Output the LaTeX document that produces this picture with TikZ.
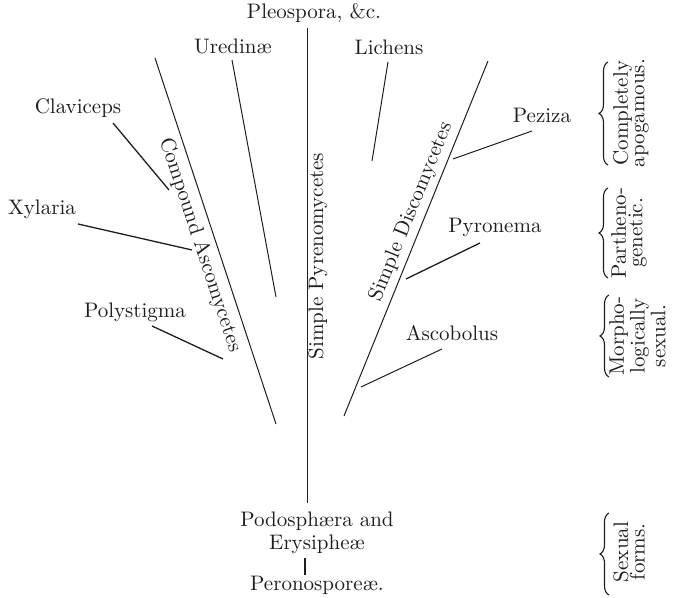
\documentclass[tikz,border=0pt]{standalone}
\usepackage{fontspec}
\usetikzlibrary{decorations.pathreplacing}
\definecolor{ink}{HTML}{1E1E1E}
\begin{document}
\begin{tikzpicture}[x=0.5pt,y=-0.5pt,
  lbl/.style={inner sep=0pt, text=ink, font=\fontsize{10.5}{12}\selectfont},
  grp/.style={lbl, rotate=90, align=center, font=\fontsize{10.5}{8.25}\selectfont},
  stem/.style={draw=ink, line width=0.5pt},
  leader/.style={draw=ink, line width=0.65pt},
  bracket/.style={draw=ink, line width=0.55pt, decorate,
    decoration={brace, amplitude=4.5pt}}]
\useasboundingbox (0,0) rectangle (677,598);

% taxon names
\node[lbl] (pleo) at (314,13) {Pleospora, \&c.};
\node[lbl] (ured) at (233,46) {Uredinæ};
\node[lbl] (lich) at (389,47) {Lichens};
\node[lbl] (clav) at (78,108) {Claviceps};
\node[lbl] (xyl)  at (42,209) {Xylaria};
\node[lbl] (poly) at (135,312) {Polystigma};
\node[lbl] (pez)  at (542,115) {Peziza};
\node[lbl] (pyro) at (495,227) {Pyronema};
\node[lbl] (asco) at (452,333) {Ascobolus};
\node[lbl, align=center, font=\fontsize{10.5}{11.5}\selectfont] (podo) at (317,533)
  {Podosphæra and\\Erysipheæ};
\node[lbl] (pero) at (317,585) {Peronosporeæ.};

% branch names written along the stems
\node[lbl, rotate=-71.7] (comp) at (200,245) {Compound Ascomycetes};
\node[lbl, rotate=90] (pyre) at (318,256) {Simple Pyrenomycetes};
\node[lbl, rotate=68] (disc) at (411,212) {Simple Discomycetes};

% stems
\coordinate (c-top) at (308,28);   \coordinate (c-bot) at (308,503);
\coordinate (u-top) at (232,60);   \coordinate (u-bot) at (276,297);
\coordinate (a-top) at (155,58);   \coordinate (a-bot) at (276,424);
\coordinate (l-top) at (388,62);   \coordinate (l-bot) at (372,161);
\coordinate (d-top) at (488,61);   \coordinate (d-bot) at (344,416);
\draw[stem] (c-top) -- (c-bot);
\draw[stem] (u-top) -- (u-bot);
\draw[stem] (a-top) -- (a-bot);
\draw[stem] (l-top) -- (l-bot);
\draw[stem] (d-top) -- (d-bot);

% leaders from the names to the stems
\coordinate (clav-a) at (113,123); \coordinate (clav-b) at (169,190);
\coordinate (xyl-a) at (78,224);   \coordinate (xyl-b) at (192,250);
\coordinate (poly-a) at (152,326); \coordinate (poly-b) at (223,359);
\coordinate (pez-a) at (532,131);  \coordinate (pez-b) at (453,159);
\coordinate (pyro-a) at (480,243); \coordinate (pyro-b) at (406,279);
\coordinate (asco-a) at (442,349); \coordinate (asco-b) at (361,387);
\draw[leader] (clav-a) -- (clav-b);
\draw[leader] (xyl-a) -- (xyl-b);
\draw[leader] (poly-a) -- (poly-b);
\draw[stem] (pez-a) -- (pez-b);
\draw[leader] (pyro-a) -- (pyro-b);
\draw[stem] (asco-a) -- (asco-b);

% short bar between the two lowest forms
\coordinate (bar-a) at (305,558); \coordinate (bar-b) at (305,575);
\draw[leader] (bar-a) -- (bar-b);

% grouping braces on the right
\coordinate (b1-bot) at (608,165); \coordinate (b1-top) at (608,62);
\coordinate (b2-bot) at (608,278); \coordinate (b2-top) at (608,188);
\coordinate (b3-bot) at (609,377); \coordinate (b3-top) at (609,295);
\coordinate (b4-bot) at (609,595); \coordinate (b4-top) at (609,513);
\draw[bracket] (b1-bot) -- (b1-top);
\draw[bracket] (b2-bot) -- (b2-top);
\draw[bracket] (b3-bot) -- (b3-top);
\draw[bracket] (b4-bot) -- (b4-top);

\node[grp] (apog) at (631,113) {Completely\\apogamous.};
\node[grp] (part) at (629,233) {Partheno-\\genetic.};
\node[grp] (morph) at (637.5,336) {Morpho-\\logically\\sexual.};
\node[grp] (sexf) at (629,552) {Sexual\\forms.};
\end{tikzpicture}
\end{document}
